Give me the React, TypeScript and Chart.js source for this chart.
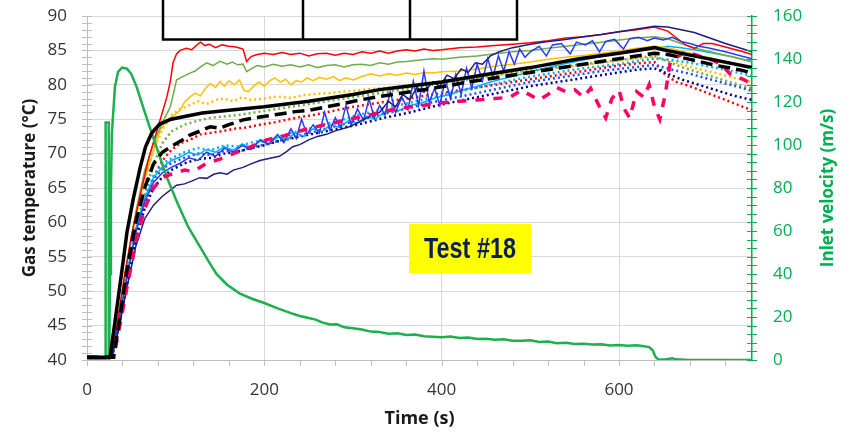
import { useEffect, useRef } from 'react';
import { Chart, registerables } from 'chart.js';
Chart.register(...registerables);

type P = [number, number][];

// ---- data (time s, value) ----
const velocity: P = [[0,0],[21,0],[21,110.5],[24.5,110.5],[24.5,0],[25,0],[26,40],[27,80],[28,105],[31.5,127],[35,134],[39.5,136],[45,135.5],[50,133],[56,127],[63,118],[71,108],[80,97],[90,85],[101,74],[114,62],[127,53],[137,46],[146,40],[158,35],[172,31],[186,28.5],[200,26.5],[215,24],[230,21.8],[240,20.5],[250,19.5],[258,18.8],[265,17.5],[274,16.5],[282,16.6],[290,15.2],[300,14.8],[310,14.2],[320,13.2],[330,13.0],[340,12.2],[350,12.4],[360,11.6],[370,11.8],[380,11.0],[390,10.8],[400,10.6],[410,10.9],[420,10.2],[430,10.5],[440,9.8],[450,9.9],[460,9.4],[470,9.6],[480,9.0],[490,8.9],[500,9.2],[510,8.4],[520,8.6],[530,7.8],[540,8.0],[550,7.4],[560,7.6],[570,7.2],[580,7.3],[590,6.8],[600,7.0],[610,6.6],[620,6.9],[628,6.4],[634,6.0],[638,4.5],[641,1.5],[644,0.4],[652,0.2],[660,0.8],[664,0.3],[680,0],[750,0]];

const blackSolid: P = [[0,40.4],[26,40.4],[32,46],[39,52.6],[45,58.5],[52,63.3],[60,68],[66,71],[73,73],[82,74.3],[95,75],[110,75.4],[130,75.9],[160,76.3],[200,76.8],[250,77.6],[300,78.6],[330,79.3],[350,79.6],[400,80.4],[450,81.5],[500,82.5],[555,83.8],[600,84.6],[640,85.4],[650,85.1],[700,83.8],[750,82.5]];

const blackDash: P = [[0,40.4],[30,40.4],[37,46],[45,53],[55,60],[65,65],[75,68.5],[85,70.2],[97,71.2],[108,72.0],[116,72.7],[128,73.3],[139,73.9],[150,73.7],[160,74.2],[176,74.9],[190,75.2],[205,75.5],[220,75.8],[235,76.1],[251,76.3],[270,76.8],[290,77.3],[308,77.8],[330,78.3],[350,78.7],[380,79.3],[400,79.7],[430,80.4],[460,81.0],[500,81.8],[540,82.6],[580,83.4],[620,84.2],[640,84.6],[655,84.4],[680,83.7],[710,82.8],[739,82.1],[750,81.7]];

const pinkDash: P = [[0,40.4],[30,40.4],[37,45],[45,50.5],[55,57],[65,62],[75,65],[85,66.5],[95,67.0],[110,67.6],[120,67.4],[135,68.6],[150,69.2],[165,70.0],[185,71.0],[203,72.0],[223,72.6],[243,73.4],[262,74.0],[283,74.6],[304,75.2],[325,75.8],[345,76.4],[365,76.8],[385,77.1],[400,77.4],[420,77.6],[440,77.8],[460,78.0],[477,78.2],[490,79.2],[500,78.5],[510,77.8],[520,78.6],[530,79.6],[540,79.0],[550,79.3],[560,78.2],[568,79.5],[578,76.8],[585,75.2],[592,78.0],[600,79.2],[606,76.5],[612,75.2],[620,79.0],[628,78.2],[634,80.0],[640,76.8],[646,75.0],[652,78.5],[658,83.5],[665,84.0],[675,84.8],[685,84.4],[695,84.0],[705,83.6],[715,83.0],[725,81.6],[740,80.8],[750,80.1]];

const redSolid: P = [[0,40.4],[28,40.4],[35,46],[42,52],[50,58],[60,64],[70,69.5],[79,73.4],[85,76],[90,78.2],[94,80.5],[97,83.2],[101,84.5],[105,85],[112,85.3],[118,85.1],[124,85.8],[128,86.2],[133,85.7],[138,85.9],[145,85.4],[152,85.8],[160,85.6],[168,85.5],[176,85.2],[180,83.4],[185,84.1],[192,84.4],[200,84.6],[210,84.4],[220,84.7],[230,84.4],[240,84.6],[250,84.2],[260,84.5],[270,84.6],[280,84.3],[290,84.6],[300,84.4],[310,84.8],[320,84.6],[330,84.9],[340,84.6],[350,84.9],[360,85.1],[370,84.9],[380,85.2],[390,85.0],[400,85.1],[420,85.4],[440,85.5],[460,85.7],[480,85.9],[500,86.1],[520,86.4],[540,86.8],[560,87.0],[580,87.3],[600,87.7],[620,88.0],[640,88.4],[655,87.8],[665,86.8],[675,85.8],[685,85.3],[695,86.0],[705,86.0],[720,85.5],[740,84.8],[750,84.4]];

const greenSolid: P = [[0,40.4],[28,40.4],[35,46],[45,54],[55,61.5],[65,67.5],[75,71.5],[85,74.5],[94,76.8],[101,80.7],[108,81.2],[116,81.7],[122,82.0],[128,82.6],[135,83.2],[142,82.8],[150,83.4],[158,83.0],[164,83.3],[170,82.9],[176,83.0],[180,81.9],[186,82.4],[192,82.8],[200,82.6],[210,83.0],[220,82.7],[230,82.9],[240,82.6],[250,82.9],[260,82.5],[270,82.8],[280,82.9],[290,82.6],[300,82.9],[310,83.0],[320,82.8],[330,83.2],[340,83.0],[350,83.3],[360,83.4],[375,83.6],[390,83.8],[400,83.7],[420,84.0],[440,84.2],[460,84.5],[480,84.8],[500,85.0],[520,85.3],[540,85.6],[560,85.9],[580,86.2],[600,86.5],[620,86.8],[640,87.0],[655,86.7],[670,86.0],[690,85.2],[710,84.6],[730,84.0],[750,83.3]];

const goldSolid: P = [[0,40.4],[28,40.4],[35,46],[45,54],[55,61],[65,66.5],[75,70.5],[83,73.5],[90,74.9],[98,75.5],[105,76.3],[110,77.5],[116,78.2],[122,78.8],[128,78.4],[133,79.4],[139,80.2],[145,79.6],[150,80.5],[155,79.8],[160,80.6],[166,80.0],[172,80.7],[177,79.2],[182,79.0],[188,79.8],[194,80.4],[200,79.8],[206,80.6],[212,81.0],[218,80.4],[224,80.8],[230,80.0],[236,80.6],[242,80.4],[248,81.0],[255,80.6],[262,81.1],[270,80.8],[278,81.2],[285,80.6],[292,81.0],[300,80.7],[310,81.2],[320,81.6],[330,81.3],[340,81.6],[350,81.4],[360,81.7],[370,81.5],[380,81.8],[390,81.7],[400,81.9],[420,82.0],[440,82.3],[460,82.7],[480,83.0],[500,83.3],[520,83.7],[540,84.0],[570,84.4],[600,84.9],[620,85.3],[640,85.6],[655,85.4],[670,84.9],[690,84.3],[710,83.7],[730,83.1],[750,82.6]];

const goldDot: P = [[0,40.4],[28,40.4],[35,45.5],[45,53],[55,60],[65,66],[75,70.5],[85,73.5],[95,75.5],[105,76.5],[115,77.0],[125,77.6],[135,77.2],[145,77.8],[155,78.0],[165,77.6],[175,78.2],[185,77.8],[200,78.0],[215,78.3],[230,78.1],[245,78.5],[260,78.7],[275,78.8],[290,79.0],[305,79.2],[320,79.4],[340,79.6],[360,79.9],[380,80.2],[400,80.5],[420,80.8],[440,81.1],[460,81.4],[480,81.7],[500,82.0],[520,82.3],[540,82.6],[560,82.9],[580,83.2],[600,83.5],[620,83.8],[640,84.0],[655,83.6],[670,83.0],[690,82.3],[710,81.7],[730,81.0],[750,80.4]];

const greenDot: P = [[0,40.4],[28,40.4],[35,45],[45,52],[55,58.5],[65,64],[75,68.5],[85,71.5],[95,73.2],[110,74.2],[125,74.8],[140,75.2],[155,75.4],[170,75.6],[185,75.9],[200,76.2],[220,76.6],[240,77.0],[260,77.4],[280,77.8],[300,78.2],[320,78.6],[340,79.0],[360,79.4],[380,79.8],[400,80.2],[420,80.6],[440,81.0],[460,81.4],[480,81.8],[500,82.1],[520,82.4],[540,82.7],[560,83.0],[580,83.3],[600,83.6],[620,83.9],[640,84.2],[655,83.4],[670,82.6],[690,81.8],[710,81.0],[730,80.2],[750,79.5]];

const redDot: P = [[0,40.4],[28,40.4],[35,44.5],[45,51],[55,57.5],[65,62.5],[75,66.5],[85,69.0],[95,70.5],[105,71.5],[116,72.0],[128,72.8],[139,73.0],[150,73.2],[165,73.6],[180,73.8],[195,74.2],[210,74.5],[225,74.9],[240,75.3],[255,75.6],[270,76.0],[285,76.4],[300,76.8],[320,77.2],[340,77.6],[360,78.0],[380,78.4],[400,78.8],[420,79.2],[440,79.6],[460,80.0],[480,80.4],[500,80.8],[520,81.2],[540,81.6],[560,82.0],[580,82.4],[600,82.8],[620,83.1],[640,83.3],[652,81.5],[665,80.4],[680,79.8],[700,78.8],[720,77.8],[740,76.8],[750,76.3]];

const blueSolid: P = [[0,40.4],[28,40.4],[35,45],[45,52],[55,58.5],[65,63],[75,65.8],[85,67.2],[95,68.0],[105,68.6],[115,69.4],[125,69.0],[135,70.2],[145,69.6],[155,70.8],[165,70.2],[175,71.2],[185,70.6],[195,72.0],[205,71.4],[215,72.8],[222,71.6],[230,73.6],[236,72.2],[242,75.0],[248,72.8],[255,74.2],[262,73.0],[268,76.0],[274,73.4],[280,75.2],[286,73.8],[292,77.0],[298,74.2],[305,76.5],[312,74.8],[318,78.0],[324,75.2],[330,77.0],[336,75.6],[342,79.0],[348,76.0],[355,78.2],[362,76.4],[368,80.5],[374,77.0],[380,82.0],[386,77.4],[392,79.5],[398,77.0],[404,80.8],[410,78.0],[416,81.5],[422,78.6],[428,82.4],[434,79.5],[440,83.0],[446,80.6],[452,83.8],[458,81.2],[464,84.2],[470,82.0],[476,84.8],[482,83.0],[488,85.2],[494,84.0],[500,84.8],[510,85.6],[518,84.2],[525,85.8],[535,86.0],[545,84.5],[552,86.2],[562,85.8],[570,86.4],[578,84.8],[585,86.3],[595,86.6],[605,85.2],[612,86.7],[622,86.9],[632,86.4],[640,86.8],[650,86.5],[660,86.9],[670,86.3],[680,86.0],[690,85.6],[700,85.4],[720,84.8],[740,84.1],[750,83.8]];

const navySolid: P = [[0,40.4],[28,40.4],[35,44],[45,50.5],[55,56.5],[65,60.5],[75,62.5],[85,63.8],[95,64.8],[101,65.4],[110,65.6],[118,66.0],[127,66.5],[135,66.4],[143,67.0],[150,67.2],[158,67.0],[165,67.6],[176,68.0],[185,68.5],[195,69.0],[205,69.3],[217,69.6],[225,70.3],[232,71.0],[240,71.3],[250,72.0],[260,72.5],[270,72.8],[280,73.3],[296,73.9],[310,74.8],[320,75.5],[330,76.0],[340,77.6],[348,76.8],[356,78.6],[364,77.8],[372,79.6],[380,78.9],[390,80.4],[398,79.8],[406,81.4],[414,80.9],[422,82.3],[430,81.8],[438,83.2],[446,83.0],[455,84.2],[465,84.8],[480,85.4],[500,85.9],[520,86.3],[540,86.6],[560,87.0],[580,87.3],[600,87.7],[620,88.1],[640,88.5],[655,88.4],[670,88.0],[685,87.6],[700,86.9],[720,86.0],[740,85.2],[750,84.8]];

const cyanSolid: P = [[0,40.4],[28,40.4],[35,45.5],[45,52.5],[55,59],[65,63.5],[75,66.5],[85,68],[95,69],[105,69.5],[115,70.2],[125,69.8],[135,70.6],[145,70.2],[155,71.0],[165,70.5],[175,71.4],[185,70.8],[195,71.8],[205,71.4],[215,72.4],[225,72.0],[235,73.0],[245,72.5],[255,73.6],[265,73.2],[275,74.2],[285,73.8],[295,74.8],[305,74.4],[315,75.4],[325,75.0],[335,76.0],[350,76.2],[365,77.0],[380,77.5],[395,78.2],[410,78.6],[425,79.3],[440,79.8],[455,80.4],[470,80.9],[485,81.4],[500,81.9],[520,82.5],[540,83.1],[560,83.6],[580,84.1],[600,84.6],[620,85.0],[640,85.3],[655,85.6],[670,85.4],[690,85.0],[710,84.5],[730,84.0],[750,83.4]];

const cyanDot: P = [[0,40.4],[28,40.4],[35,45],[45,52],[55,58.5],[65,63.5],[75,66.8],[85,68.5],[95,69.3],[110,70.2],[125,70.8],[140,70.5],[155,71.2],[170,71.0],[185,71.6],[200,72.0],[215,72.4],[230,73.0],[245,73.4],[260,74.0],[275,74.5],[290,75.0],[305,75.6],[320,76.0],[335,76.6],[350,77.0],[365,77.4],[380,77.9],[395,78.3],[410,78.8],[425,79.2],[440,79.6],[455,80.0],[470,80.4],[485,80.8],[500,81.2],[520,81.6],[540,82.0],[560,82.4],[580,82.7],[600,83.0],[620,83.4],[640,83.8],[660,83.6],[680,83.2],[700,82.7],[720,82.2],[740,81.6],[750,81.3]];

const blueDot: P = [[0,40.4],[28,40.4],[35,44.8],[45,51.5],[55,58],[65,63],[75,66.2],[85,67.8],[95,68.6],[110,69.4],[125,70.0],[140,69.8],[155,70.4],[170,70.2],[185,70.9],[200,71.3],[215,71.8],[230,72.3],[245,72.8],[260,73.3],[275,73.8],[290,74.3],[305,74.8],[320,75.3],[335,75.8],[350,76.2],[365,76.7],[380,77.2],[395,77.6],[410,78.0],[425,78.4],[440,78.8],[455,79.2],[470,79.6],[485,80.0],[500,80.4],[520,80.8],[540,81.2],[560,81.6],[580,82.0],[600,82.3],[620,82.6],[640,82.9],[660,82.2],[680,81.6],[700,80.9],[720,80.2],[740,79.5],[750,79.1]];

const navyDot: P = [[0,40.4],[28,40.4],[35,44.5],[45,51],[55,57.5],[65,62],[75,65],[85,66.6],[95,67.6],[110,68.6],[125,69.2],[140,69.4],[155,70.0],[170,70.3],[185,70.8],[200,71.2],[215,71.8],[230,72.2],[245,72.6],[260,73.0],[275,73.4],[290,73.8],[305,74.2],[320,74.7],[335,75.2],[350,75.6],[365,76.0],[380,76.5],[395,77.0],[410,77.4],[425,77.8],[440,78.2],[455,78.6],[470,79.0],[485,79.4],[500,79.8],[520,80.2],[540,80.6],[560,81.0],[580,81.4],[600,81.8],[620,82.2],[640,82.4],[655,81.6],[670,80.8],[690,80.0],[710,79.2],[730,78.4],[750,77.8]];

const tempTicks = [40, 45, 50, 55, 60, 65, 70, 75, 80, 85, 90];
const velTicks = [0, 20, 40, 60, 80, 100, 120, 140, 160];
const timeTicks = [0, 200, 400, 600];
const labelText = 'Test #18';
const titleLeft = 'Gas temperature (°C)';
const titleRight = 'Inlet velocity (m/s)';
const titleBottom = 'Time (s)';

const GREEN = '#00B050';
const FONT = '"Open Sans", "Noto Sans", sans-serif';

const toXY = (p: P) => p.map(([x, y]) => ({ x, y }));

export default function App() {
  const ref = useRef<HTMLCanvasElement>(null);
  useEffect(() => {
    document.body.style.margin = '0';
    const solid = (data: P, color: string, w = 1.5) => ({
      data: toXY(data), borderColor: color, borderWidth: w, pointRadius: 0, fill: false, yAxisID: 'y',
    });
    const dotted = (data: P, color: string) => ({
      data: toXY(data), borderColor: color, borderWidth: 2.5, borderDash: [2, 3], pointRadius: 0, fill: false, yAxisID: 'y',
    });
    const overlay = {
      id: 'overlay',
      afterDraw(chart: any) {
        const { ctx, scales } = chart;
        const x = scales.x, y = scales.y, y1 = scales.y1;
        ctx.save();
        ctx.lineWidth = 1;
        ctx.strokeStyle = '#bfbfbf';
        for (let v = 40; v <= 90; v++) {
          const py = Math.round(y.getPixelForValue(v)) + 0.5;
          ctx.beginPath(); ctx.moveTo(x.left - 5, py); ctx.lineTo(x.left + 5, py); ctx.stroke();
        }
        for (let t = 0; t <= 720; t += 40) {
          const px = Math.round(x.getPixelForValue(t)) + 0.5;
          ctx.beginPath(); ctx.moveTo(px, y.bottom); ctx.lineTo(px, y.bottom + 6); ctx.stroke();
        }
        ctx.strokeStyle = GREEN;
        for (let v = 0; v <= 160; v += 4) {
          const py = Math.round(y1.getPixelForValue(v)) + 0.5;
          ctx.beginPath(); ctx.moveTo(x.right - 5, py); ctx.lineTo(x.right + 5, py); ctx.stroke();
        }
        ctx.textAlign = 'center';
        ctx.textBaseline = 'middle';
        ctx.font = `bold 17px ${FONT}`;
        const midY = (y.top + y.bottom) / 2;
        ctx.fillStyle = '#1a1a1a';
        ctx.save(); ctx.translate(30, midY); ctx.rotate(-Math.PI / 2); ctx.fillText(titleLeft, 0, 0); ctx.restore();
        ctx.fillStyle = GREEN;
        ctx.save(); ctx.translate(828, midY); ctx.rotate(-Math.PI / 2); ctx.fillText(titleRight, 0, 0); ctx.restore();
        ctx.fillStyle = '#1a1a1a';
        ctx.font = `bold 18px ${FONT}`;
        ctx.fillText(titleBottom, (x.left + x.right) / 2, 419);
        ctx.strokeStyle = '#000';
        ctx.lineWidth = 2.5;
        ctx.strokeRect(163, -5, 354, 44.5);
        ctx.beginPath(); ctx.moveTo(303, -5); ctx.lineTo(303, 39.5); ctx.moveTo(410, -5); ctx.lineTo(410, 39.5); ctx.stroke();
        ctx.fillStyle = '#FFFF00';
        ctx.fillRect(409, 224, 122, 49);
        ctx.font = 'bold 30px "Liberation Sans", Arial, sans-serif';
        const w = ctx.measureText(labelText).width;
        ctx.fillStyle = '#0A1E5A';
        ctx.save(); ctx.translate(470, 250); ctx.scale(92 / w, 1); ctx.fillText(labelText, 0, 0); ctx.restore();
        ctx.restore();
      },
    };
    const chart = new Chart(ref.current!, {
      type: 'line',
      data: {
        datasets: [
          solid(blackSolid, '#000000', 3.5),
          { ...solid(blackDash, '#000000', 3.5), borderDash: [12, 6] },
          { ...solid(pinkDash, '#FF0066', 3.5), borderDash: [9, 9] },
          { data: toXY(velocity), borderColor: '#1DB04E', borderWidth: 2.5, pointRadius: 0, fill: false, yAxisID: 'y1' },
          solid(navySolid, '#1E1E82'),
          solid(blueSolid, '#2B3BF0'),
          solid(redSolid, '#FF0000'),
          solid(greenSolid, '#70AD47'),
          solid(goldSolid, '#FFC000'),
          solid(cyanSolid, '#00B0F0'),
          dotted(navyDot, '#00008B'),
          dotted(blueDot, '#1F4FFF'),
          dotted(cyanDot, '#00B0F0'),
          dotted(redDot, '#FF0000'),
          dotted(greenDot, '#70AD47'),
          dotted(goldDot, '#FFC000'),
        ] as any,
      },
      options: {
        animation: false,
        responsive: true,
        maintainAspectRatio: false,
        layout: { padding: { top: 16, left: 0, right: 0, bottom: 0 } },
        plugins: { legend: { display: false }, tooltip: { enabled: false } },
        elements: { line: { tension: 0 } },
        scales: {
          x: {
            type: 'linear', min: 0, max: 750,
            afterFit: (s: any) => { s.height = 75; },
            afterBuildTicks: (s: any) => { s.ticks = timeTicks.map((v) => ({ value: v })); },
            ticks: { padding: 0, color: '#333', font: { family: FONT, size: 17 } },
            grid: { color: '#d9d9d9', drawTicks: true, tickLength: 20, tickColor: 'rgba(0,0,0,0)' },
            border: { color: '#bfbfbf' },
          },
          y: {
            type: 'linear', position: 'left', min: 40, max: 90,
            afterFit: (s: any) => { s.width = 87; },
            afterBuildTicks: (s: any) => { s.ticks = tempTicks.map((v) => ({ value: v })); },
            ticks: { padding: 0, color: '#333', font: { family: FONT, size: 17 } },
            grid: { color: '#d9d9d9', drawTicks: true, tickLength: 20, tickColor: 'rgba(0,0,0,0)' },
            border: { color: '#bfbfbf' },
          },
          y1: {
            type: 'linear', position: 'right', min: 0, max: 160,
            afterFit: (s: any) => { s.width = 98; },
            afterBuildTicks: (s: any) => { s.ticks = velTicks.map((v) => ({ value: v })); },
            ticks: { padding: 0, color: GREEN, font: { family: FONT, size: 17 } },
            grid: { drawOnChartArea: false, drawTicks: true, tickLength: 21, tickColor: 'rgba(0,0,0,0)' },
            border: { color: GREEN, width: 1.5 },
          },
        },
      } as any,
      plugins: [overlay],
    });
    return () => chart.destroy();
  }, []);
  return (
    <div style={{ width: 850, height: 435, position: 'relative' }}>
      <canvas ref={ref} />
    </div>
  );
}
